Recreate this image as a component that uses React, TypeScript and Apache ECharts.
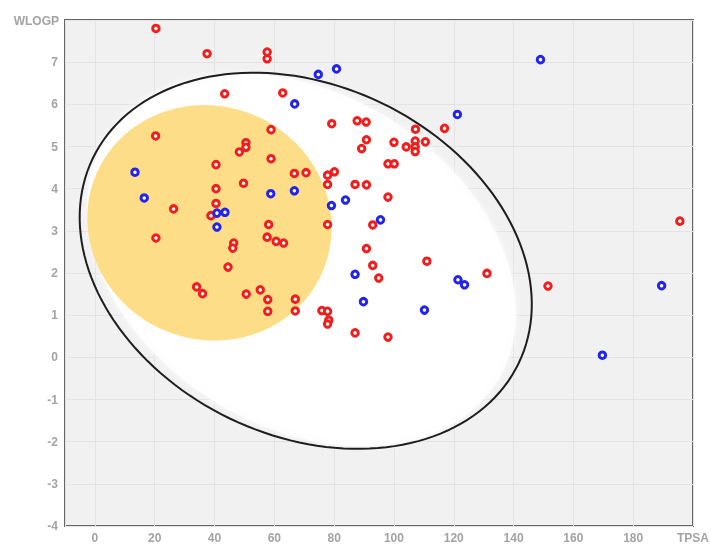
import React, { useEffect, useRef } from 'react';
import * as echarts from 'echarts';

// Molecules: [TPSA, WLOGP]
const redPoints: [number, number][] = [
  [20.4, 7.8], [37.5, 7.2], [57.6, 7.24], [57.6, 7.08], [43.4, 6.25], [62.8, 6.27],
  [20.3, 5.25], [58.9, 5.4], [79.2, 5.54], [87.7, 5.61], [90.7, 5.58], [107.2, 5.41],
  [116.9, 5.43], [90.8, 5.16], [89.2, 4.95], [100.0, 5.1], [104.1, 4.99], [107.1, 5.13],
  [107.1, 4.99], [107.1, 4.88], [110.5, 5.11], [98.0, 4.59], [100.1, 4.59], [50.5, 5.09],
  [50.5, 4.98], [48.3, 4.87], [58.9, 4.71], [40.5, 4.57], [66.7, 4.36], [70.6, 4.38],
  [77.8, 4.32], [80.1, 4.4], [77.8, 4.1], [87.0, 4.1], [90.8, 4.09], [49.7, 4.13],
  [40.5, 4.0], [98.0, 3.8], [40.5, 3.65], [26.3, 3.52], [38.8, 3.36], [58.1, 3.15],
  [77.8, 3.15], [92.9, 3.14], [195.6, 3.23], [57.6, 2.85], [60.6, 2.75], [63.1, 2.71],
  [20.4, 2.83], [46.4, 2.71], [46.1, 2.59], [90.8, 2.58], [44.5, 2.14], [92.9, 2.18],
  [111.0, 2.28], [131.1, 1.99], [94.9, 1.88], [151.5, 1.69], [34.0, 1.67], [36.0, 1.51],
  [50.6, 1.5], [55.3, 1.6], [57.8, 1.37], [57.8, 1.09], [67.0, 1.38], [67.0, 1.1],
  [75.9, 1.11], [77.8, 1.09], [78.2, 0.88], [77.8, 0.79], [87.0, 0.58], [98.0, 0.48],
];

const bluePoints: [number, number][] = [
  [74.7, 6.71], [80.8, 6.84], [66.8, 6.01], [149.0, 7.06], [121.2, 5.76], [121.4, 1.84],
  [123.6, 1.72], [189.5, 1.7], [169.7, 0.05], [110.2, 1.12], [87.0, 1.97], [89.8, 1.32],
  [13.4, 4.39], [16.5, 3.78], [40.8, 3.42], [43.5, 3.44], [40.8, 3.09], [58.8, 3.88],
  [66.7, 3.95], [79.1, 3.6], [83.8, 3.73], [95.5, 3.26],
];

// Ellipses in data units: centre, first and second conjugate half-axis vectors
const whiteCenter = [69.1, 2.31];
const whiteU = [65.3, -2.89];
const whiteV = [-29.5, -3.34];

const outlineCenter = [70.5, 2.29];
const outlineU = [71.2, -2.43];
const outlineV = [-25.4, -3.74];

const yolkCenter = [38.3, 3.19];
const yolkU = [37.7, -1.18];
const yolkV = [-15.7, -2.53];

const xName = 'TPSA';
const yName = 'WLOGP';

function ellipseSeries(center: number[], u: number[], v: number[], style: any, z: number) {
  return {
    type: 'custom',
    coordinateSystem: 'cartesian2d',
    silent: true,
    z,
    data: [[center[0], center[1]]],
    encode: { x: 0, y: 1 },
    renderItem: (_params: any, api: any) => {
      const pts: number[][] = [];
      const n = 160;
      for (let i = 0; i < n; i++) {
        const t = (i / n) * Math.PI * 2;
        const c = Math.cos(t);
        const s = Math.sin(t);
        pts.push(api.coord([center[0] + u[0] * c + v[0] * s, center[1] + u[1] * c + v[1] * s]));
      }
      return { type: 'polygon', shape: { points: pts }, style };
    },
  };
}

export default function App() {
  const ref = useRef<HTMLDivElement>(null);
  useEffect(() => {
    if (!ref.current) return;
    const chart = echarts.init(ref.current, undefined, { renderer: 'svg' });
    const labelStyle = { color: '#a3a3a3', fontSize: 12, fontFamily: 'Liberation Sans, Arial, sans-serif', fontWeight: 'bold' as const };
    const pointStyle = (c: string) => ({ color: '#ffffff', borderColor: c, borderWidth: 3, opacity: 1 });
    chart.setOption({
      animation: false,
      grid: {
        left: 65, right: 17, top: 20, bottom: 16,
        show: true, backgroundColor: '#f1f1f1', borderColor: '#666666', borderWidth: 2,
      },
      xAxis: {
        type: 'value', min: -10, max: 200, minInterval: 20, maxInterval: 20,
        axisLine: { show: false }, axisTick: { show: false },
        axisLabel: { ...labelStyle, margin: 6, showMinLabel: false, showMaxLabel: false },
        splitLine: { show: true, lineStyle: { color: '#e3e3e3', width: 1 } },
      },
      yAxis: {
        type: 'value', min: -4, max: 8, interval: 1,
        axisLine: { show: false }, axisTick: { show: false },
        axisLabel: { ...labelStyle, margin: 7, showMaxLabel: false },
        splitLine: { show: true, lineStyle: { color: '#e3e3e3', width: 1 } },
      },
      graphic: [
        { type: 'text', x: 59, y: 21, style: { text: yName, align: 'right', verticalAlign: 'middle', fill: '#a3a3a3', font: 'bold 12px Liberation Sans, Arial, sans-serif' } },
        { type: 'text', x: 677, y: 538, style: { text: xName, align: 'left', verticalAlign: 'middle', fill: '#a3a3a3', font: 'bold 12px Liberation Sans, Arial, sans-serif' } },
      ],
      series: [
        ellipseSeries(whiteCenter, whiteU, whiteV, { fill: 'rgba(255,255,255,0.85)', stroke: 'none', shadowBlur: 6, shadowColor: 'rgba(255,255,255,0.9)' }, 1),
        ellipseSeries(yolkCenter, yolkU, yolkV, { fill: 'rgba(252,214,108,0.82)', stroke: 'none' }, 2),
        ellipseSeries(outlineCenter, outlineU, outlineV, { fill: 'none', stroke: '#1e1e1e', lineWidth: 2 }, 3),
        {
          type: 'scatter', z: 5, symbol: 'circle', symbolSize: 6.5,
          data: redPoints, itemStyle: pointStyle('#f21d1d'),
        },
        {
          type: 'scatter', z: 5, symbol: 'circle', symbolSize: 6.5,
          data: bluePoints, itemStyle: pointStyle('#2323ee'),
        },
      ],
    });
    return () => chart.dispose();
  }, []);
  return <div ref={ref} style={{ position: 'fixed', left: 0, top: 0, width: 710, height: 544 }} />;
}
